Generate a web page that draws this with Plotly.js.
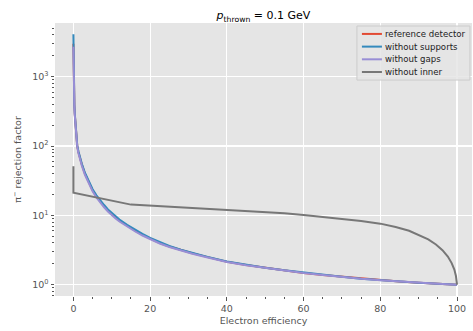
<!DOCTYPE html>
<html><head><meta charset="utf-8">
<script src="https://cdn.plot.ly/plotly-3.0.1.min.js"></script>
<style>html,body{margin:0;padding:0;background:#fff}#chart{width:473px;height:331px}</style>
</head><body><div id="chart"></div>
<script>
const effMain = [0, 0.03, 0.08, 0.15, 0.25, 0.35, 0.5, 0.7, 1.0, 1.3, 1.7, 2.2, 3, 4, 5, 6, 7, 8, 9, 10, 11, 12, 14, 16, 18, 20, 22.5, 25, 28, 31, 35, 40, 45, 50, 55, 60, 65, 70, 75, 80, 85, 90, 95, 100];
const refDet  = [3000, 1700, 900, 560, 380, 290, 210, 150, 100, 82, 67, 54, 40, 29.5, 23, 18.8, 15.8, 13.6, 11.8, 10.4, 9.3, 8.4, 7.05, 6.05, 5.25, 4.6, 4.0, 3.55, 3.15, 2.84, 2.5, 2.15, 1.92, 1.75, 1.6, 1.48, 1.38, 1.3, 1.22, 1.16, 1.11, 1.07, 1.03, 1.0];
const noSupp  = [4100, 1900, 950, 580, 390, 295, 214, 152, 102, 84, 69, 55.5, 41.2, 30.5, 23.8, 19.5, 16.4, 14.1, 12.2, 10.8, 9.65, 8.7, 7.3, 6.25, 5.42, 4.72, 4.1, 3.62, 3.2, 2.87, 2.52, 2.16, 1.93, 1.76, 1.61, 1.49, 1.39, 1.3, 1.22, 1.16, 1.11, 1.07, 1.03, 1.0];
const noGaps  = [2700, 1600, 870, 540, 370, 282, 205, 146, 97, 79, 64.5, 52, 38.5, 28.5, 22.2, 18.1, 15.2, 13.1, 11.4, 10.0, 9.0, 8.15, 6.85, 5.9, 5.12, 4.5, 3.93, 3.5, 3.1, 2.8, 2.47, 2.13, 1.91, 1.74, 1.6, 1.48, 1.38, 1.29, 1.22, 1.16, 1.11, 1.07, 1.03, 1.0];
const effInner = [0, 0, 15, 28, 43, 50, 55, 60, 65, 70, 75, 80, 84, 87.5, 90, 92.5, 94.5, 96.2, 97.6, 98.6, 99.3, 99.7, 100];
const noInner  = [51, 21.2, 14.3, 13.0, 11.9, 11.2, 10.7, 10.1, 9.5, 8.9, 8.3, 7.6, 6.8, 6.0, 5.25, 4.5, 3.8, 3.15, 2.55, 2.05, 1.65, 1.35, 1.0];
const names = ['reference detector', 'without supports', 'without gaps', 'without inner'];
const colors = ['#E24A33', '#348ABD', '#988ED5', '#777777'];
const yTickVals = [1, 10, 100, 1000];
const yTickText = ['10<sup>0</sup>', '10<sup>1</sup>', '10<sup>2</sup>', '10<sup>3</sup>'];
const xTickVals = [0, 20, 40, 60, 80, 100];

const minorY = [];
[0.1, 1, 10, 100, 1000].forEach(d => { for (let k = 2; k <= 9; k++) minorY.push(k * d); });

const traces = [
  {x: effMain, y: refDet, name: names[0]},
  {x: effMain, y: noSupp, name: names[1]},
  {x: effMain, y: noGaps, name: names[2]},
  {x: effInner, y: noInner, name: names[3]}
].map((t, i) => Object.assign(t, {type: 'scatter', mode: 'lines', showlegend: false, line: {color: colors[i], width: 2}}));

// custom compact legend (matplotlib-like)
const legX0 = 0.724, legX1 = 0.995, legY1 = 0.989, legY0 = 0.791;
const shapes = [{type: 'rect', xref: 'paper', yref: 'paper', x0: legX0, x1: legX1, y0: legY0, y1: legY1,
                 fillcolor: 'rgba(229,229,229,0.85)', line: {color: '#cccccc', width: 1}, layer: 'above'}];
const annotations = [];
names.forEach((n, i) => {
  const yy = legY1 - (0.029 + i * 0.0465);
  shapes.push({type: 'line', xref: 'paper', yref: 'paper', x0: legX0 + 0.012, x1: legX0 + 0.06, y0: yy, y1: yy,
               line: {color: colors[i], width: 2}, layer: 'above'});
  annotations.push({xref: 'paper', yref: 'paper', x: legX0 + 0.066, y: yy, xanchor: 'left', yanchor: 'middle',
                    text: n, showarrow: false, borderpad: 0, font: {size: 8.6, color: '#222222'}});
});

const layout = {
  width: 473, height: 331,
  margin: {l: 55, r: 1, t: 23, b: 35},
  paper_bgcolor: '#ffffff', plot_bgcolor: '#E5E5E5',
  font: {family: 'DejaVu Sans', size: 9.5, color: '#555555'},
  title: {text: '<i>p</i><sub>thrown</sub> = 0.1 GeV', x: 0.5, xref: 'paper', y: 0.965, yref: 'container', font: {size: 11, color: '#000000'}},
  xaxis: {range: [-4.8, 103.9], tickvals: xTickVals, showgrid: true, gridcolor: '#ffffff', gridwidth: 1.2, zeroline: false,
          ticks: 'outside', ticklen: 3.5, tickcolor: '#555555', showline: false,
          minor: {tickmode: 'linear', dtick: 5, tick0: 0, ticks: 'outside', ticklen: 2, tickcolor: '#555555', showgrid: false},
          title: {text: 'Electron efficiency', standoff: 4, font: {size: 9.5, color: '#555555'}}},
  yaxis: {type: 'log', range: [-0.163, 3.775], tickvals: yTickVals, ticktext: yTickText, showgrid: true, gridcolor: '#ffffff', gridwidth: 1.2, zeroline: false,
          ticks: 'outside', ticklen: 3.5, tickcolor: '#555555', showline: false,
          minor: {tickmode: 'array', tickvals: minorY, ticks: 'outside', ticklen: 2, tickcolor: '#555555', showgrid: false},
          title: {text: 'π<sup>−</sup> rejection factor', standoff: 8, font: {size: 9.5, color: '#555555'}}},
  showlegend: false,
  shapes: shapes,
  annotations: annotations
};
Plotly.newPlot('chart', traces, layout, {displayModeBar: false, staticPlot: true});
</script></body></html>
